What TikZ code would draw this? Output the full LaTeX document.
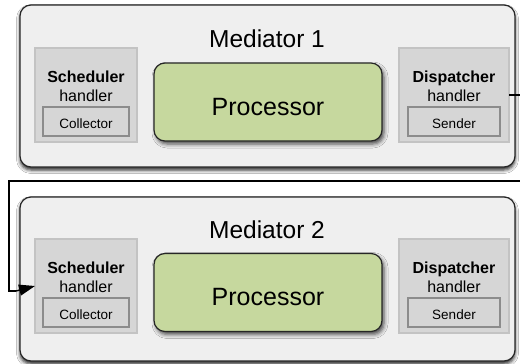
\documentclass[tikz,border=0pt]{standalone}
\usepackage{fontspec}
\setmainfont{Liberation Sans}
\usetikzlibrary{arrows.meta,shadows.blur}
\definecolor{medfill}{HTML}{EFEFEF}
\definecolor{hfill}{HTML}{D6D6D6}
\definecolor{hborder}{HTML}{C3C3C3}
\definecolor{iborder}{HTML}{8C8C8C}
\definecolor{pfill}{HTML}{C6D89E}
\definecolor{dark}{HTML}{262626}
\begin{document}
\begin{tikzpicture}[x=1pt,y=-1pt,
  medbox/.style={draw=dark,line width=1.2pt,fill=medfill,rounded corners=11pt,
    blur shadow={shadow xshift=0pt,shadow yshift=-3pt,shadow blur radius=3.5pt,shadow opacity=85},
    inner sep=0pt,outer sep=0pt},
  procbox/.style={draw=dark,line width=1.2pt,fill=pfill,rounded corners=11pt,
    blur shadow={shadow xshift=2pt,shadow yshift=-3pt,shadow blur radius=4pt,shadow opacity=70},
    minimum width=228pt,minimum height=78pt,inner sep=0pt,outer sep=0pt},
  handbox/.style={draw=hborder,line width=1.8pt,fill=hfill,minimum height=94pt,inner sep=0pt,outer sep=0pt},
  innerbox/.style={draw=iborder,line width=1.8pt,fill=hfill,minimum height=29pt,inner sep=0pt},
  title/.style={anchor=base,inner sep=0pt,font=\fontsize{24.5}{28}\selectfont},
  proctxt/.style={anchor=base,inner sep=0pt,font=\fontsize{25}{30}\selectfont},
  boldtxt/.style={anchor=base,inner sep=0pt,font=\fontsize{16}{19}\selectfont\bfseries},
  regtxt/.style={anchor=base,inner sep=0pt,font=\fontsize{16}{19}\selectfont},
  smalltxt/.style={anchor=base,inner sep=0pt,font=\fontsize{13.5}{16}\selectfont},
  link/.style={line width=1.4pt,draw=black},
  tip/.style={-{Triangle[length=16pt,width=11pt]}}
]
\useasboundingbox (0,0) rectangle (520,364);
\clip (0,0) rectangle (520,364);
\fill[white] (0,0) rectangle (520,364);

% Mediator 1
\node[medbox,minimum width=495pt,minimum height=162pt] (m1) at (267.5,86) {};
\node[title] (t1) at (267,47) {Mediator 1};
\node[procbox] (p1) at (268,102) {};
\node[proctxt] (pt1) at (268,115) {Processor};
\node[handbox,minimum width=102pt] (s1) at (86,95) {};
\node[boldtxt] (s1a) at (86,82) {Scheduler};
\node[regtxt] (s1b) at (86,101) {handler};
\node[innerbox,minimum width=86pt] (c1) at (86,121.5) {};
\node[smalltxt] (c1t) at (86,128) {Collector};
\node[handbox,minimum width=110pt] (d1) at (454,95) {};
\node[boldtxt] (d1a) at (454,82) {Dispatcher};
\node[regtxt] (d1b) at (454,101) {handler};
\node[innerbox,minimum width=92pt] (e1) at (454,121.5) {};
\node[smalltxt] (e1t) at (454,128) {Sender};

% Mediator 2
\node[medbox,minimum width=495pt,minimum height=164pt] (m2) at (267.5,279) {};
\node[title] (t2) at (267,238.5) {Mediator 2};
\node[procbox] (p2) at (268,292.5) {};
\node[proctxt] (pt2) at (268,305.5) {Processor};
\node[handbox,minimum width=102pt] (s2) at (86,286) {};
\node[boldtxt] (s2a) at (86,273) {Scheduler};
\node[regtxt] (s2b) at (86,292) {handler};
\node[innerbox,minimum width=86pt] (c2) at (86,312.5) {};
\node[smalltxt] (c2t) at (86,319) {Collector};
\node[handbox,minimum width=110pt] (d2) at (454,286) {};
\node[boldtxt] (d2a) at (454,273) {Dispatcher};
\node[regtxt] (d2b) at (454,292) {handler};
\node[innerbox,minimum width=92pt] (e2) at (454,312.5) {};
\node[smalltxt] (e2t) at (454,319) {Sender};

% connector
\coordinate (r) at (526,181);
\coordinate (l) at (9,181);
\coordinate (k) at (16,291);
\draw[link,line join=miter] (d1.east) -| (r) -- (l) |- (k);
\draw[link,tip] (k) -- (s2.west);
\end{tikzpicture}
\end{document}
